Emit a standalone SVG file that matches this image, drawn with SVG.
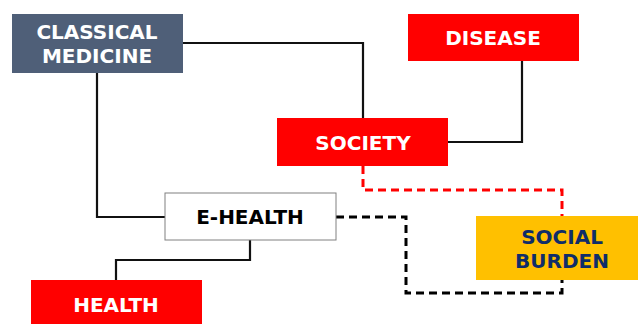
<svg xmlns="http://www.w3.org/2000/svg" width="638" height="324" viewBox="0 0 638 324">
<style>
.t{font-family:"DejaVu Sans","Verdana",sans-serif;font-weight:bold;font-size:20px;text-anchor:middle}
.w{fill:#ffffff}
.red{fill:#ff0000}
.ln{fill:none;stroke:#111;stroke-width:2.2}
.d{fill:none;stroke-width:3;stroke-dasharray:8 5}
</style>
<rect width="638" height="324" fill="#ffffff"/>
<g id="connectors">
<polyline class="ln" points="183,43 363,43 363,118"/>
<polyline class="ln" points="522,61 522,142 448,142"/>
<polyline class="ln" points="97,73 97,217 165,217"/>
<polyline class="ln" points="250,240 250,260 116,260 116,280"/>
<polyline class="d" stroke="#ff0000" points="363,166 363,190 562,190 562,216"/>
<polyline class="d" stroke="#000" points="336,217 406,217 406,293 562,293 562,280"/>
</g>
<g id="classical-medicine">
<rect x="12" y="14" width="171" height="59" fill="#4f5f78"/>
<text class="t w" x="97" y="39">CLASSICAL</text>
<text class="t w" x="97" y="63">MEDICINE</text>
</g>
<g id="disease">
<rect class="red" x="408" y="14" width="171" height="47"/>
<text class="t w" x="493" y="45">DISEASE</text>
</g>
<g id="society">
<rect class="red" x="277" y="118" width="171" height="48"/>
<text class="t w" x="363" y="150">SOCIETY</text>
</g>
<g id="e-health">
<rect x="165" y="193" width="171" height="47" fill="#ffffff" stroke="#808080" stroke-width="1"/>
<text class="t" x="250" y="224" fill="#000">E-HEALTH</text>
</g>
<g id="social-burden">
<rect x="476" y="216" width="170" height="64" fill="#ffc000"/>
<text class="t" x="562" y="244" fill="#0f2d69">SOCIAL</text>
<text class="t" x="562" y="268" fill="#0f2d69">BURDEN</text>
</g>
<g id="health">
<rect class="red" x="31" y="280" width="171" height="50"/>
<text class="t w" x="116" y="312">HEALTH</text>
</g>
</svg>
